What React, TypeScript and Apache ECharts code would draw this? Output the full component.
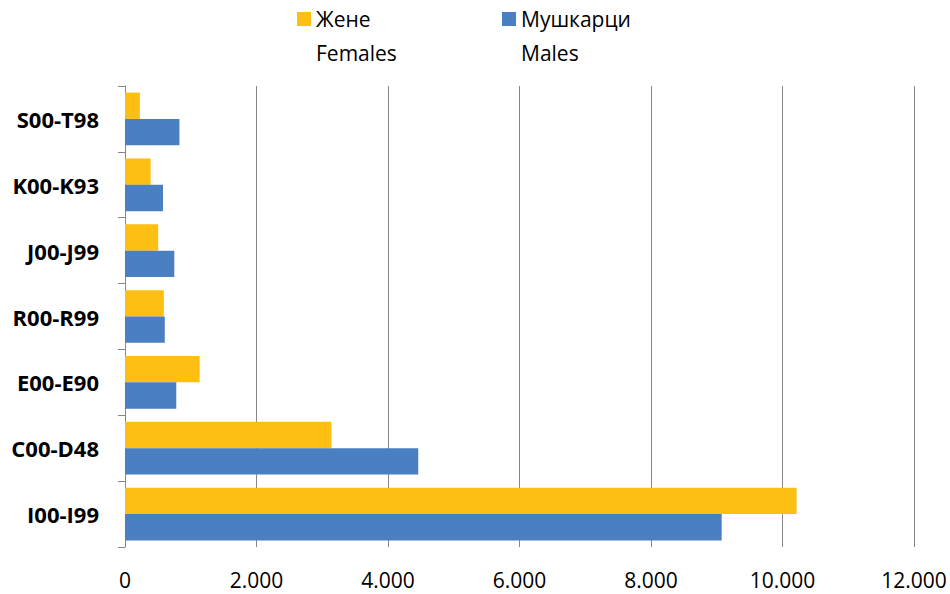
import React, { useEffect, useRef } from "react";
import * as echarts from "echarts";

const categories = ["I00-I99", "C00-D48", "E00-E90", "R00-R99", "J00-J99", "K00-K93", "S00-T98"];
const females = [10215, 3140, 1135, 590, 505, 390, 226];
const males = [9075, 4460, 780, 605, 750, 578, 828];
const seriesNames = ["Жене\nFemales", "Мушкарци\nMales"];
const xTicks = { min: 0, max: 12000, interval: 2000 };

const fmt = (v: number) => String(v).replace(/\B(?=(\d{3})+(?!\d))/g, ".");

export default function App() {
  const ref = useRef<HTMLDivElement>(null);
  useEffect(() => {
    const chart = echarts.init(ref.current!, null, { renderer: "svg" });
    const font = "'Open Sans', 'Noto Sans', sans-serif";
    chart.setOption({
      animation: false,
      textStyle: { fontFamily: font },
      legend: {
        data: [seriesNames[0], seriesNames[1]],
        left: 297,
        top: -32,
        padding: 0,
        itemWidth: 14,
        itemHeight: 14,
        itemGap: 20,
        icon: "rect",
        formatter: (name: string) => " \n" + name,
        textStyle: {
          fontFamily: font,
          fontSize: 21,
          color: "#000",
          lineHeight: 34,
          width: 166,
        },
      },
      grid: { left: 125, right: 36, top: 86, bottom: 47, containLabel: false },
      xAxis: {
        type: "value",
        min: xTicks.min,
        max: xTicks.max,
        interval: xTicks.interval,
        axisLine: { show: false },
        axisTick: { show: false },
        splitLine: { show: true, lineStyle: { color: "#878787", width: 1 } },
        axisLabel: { formatter: fmt, fontSize: 21, color: "#000", margin: 22, fontFamily: font },
      },
      yAxis: {
        type: "category",
        data: categories,
        axisLine: { show: true, lineStyle: { color: "#878787", width: 1 } },
        axisTick: { show: true, length: 7, lineStyle: { color: "#878787" } },
        axisLabel: { fontSize: 22, fontWeight: "bold", color: "#000", margin: 26, fontFamily: font },
      },
      series: [
        {
          name: seriesNames[0],
          type: "bar",
          data: females,
          barGap: "0%",
          barCategoryGap: "20%",
          itemStyle: { color: "#FDBF12" },
        },
        {
          name: seriesNames[1],
          type: "bar",
          data: males,
          barGap: "0%",
          barCategoryGap: "20%",
          itemStyle: { color: "#4A7FC1" },
        },
      ],
    });
    return () => chart.dispose();
  }, []);
  return <div ref={ref} style={{ width: 950, height: 594, position: "absolute", left: 0, top: 0, background: "#fff" }} />;
}
